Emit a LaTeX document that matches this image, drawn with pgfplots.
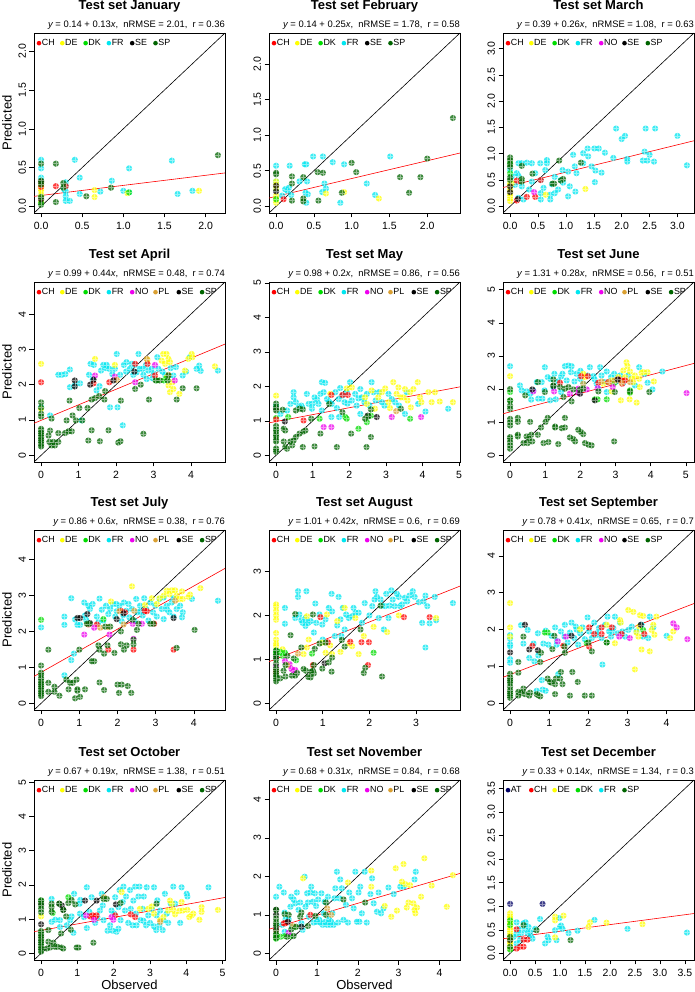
\documentclass[border=0pt]{standalone}
\usepackage{pgfplots}
\pgfplotsset{compat=1.18}
\usepackage{fontspec}
\setmainfont{Liberation Sans}
\definecolor{cCH}{RGB}{255,0,0}
\definecolor{cDE}{RGB}{255,255,0}
\definecolor{cDK}{RGB}{0,220,0}
\definecolor{cFR}{RGB}{0,230,240}
\definecolor{cNO}{RGB}{238,0,238}
\definecolor{cPL}{RGB}{218,160,50}
\definecolor{cSE}{RGB}{0,0,0}
\definecolor{cSP}{RGB}{0,100,0}
\definecolor{cAT}{RGB}{0,0,100}
\pgfdeclareplotmark{cp}{%
  \pgfpathcircle{\pgfpointorigin}{\pgfplotmarksize}\pgfusepathqfill
  \pgfpathmoveto{\pgfpoint{-\pgfplotmarksize}{0pt}}\pgfpathlineto{\pgfpoint{\pgfplotmarksize}{0pt}}%
  \pgfpathmoveto{\pgfpoint{0pt}{-\pgfplotmarksize}}\pgfpathlineto{\pgfpoint{0pt}{\pgfplotmarksize}}%
  \pgfusepathqstroke}
\pgfplotsset{
  pt/.style={only marks, mark=cp, mark size=3.1pt, mark options={fill=#1, draw=white, fill opacity=0.75, draw opacity=0.45, line width=0.5pt}},
  panel/.style={scale only axis, width=191pt, height=180pt, anchor=south west,
    axis line style={line width=0.6pt}, tick align=outside, tick pos=left,
    major tick length=4.5pt, tick style={black, line width=0.5pt},
    /pgf/number format/assume math mode=true,
    ticklabel style={font=\fontsize{10.5}{10.5}\selectfont},
    yticklabel style={rotate=90, anchor=south},
    xticklabel style={anchor=north, yshift=-1.5pt},
  },
  dec/.style={/pgf/number format/fixed, /pgf/number format/fixed zerofill, /pgf/number format/precision=1},
}
\newcommand\ld[2]{\makebox[23.3pt][l]{\tikz[baseline=-0.6ex]\fill[#1] (0,0) circle (2.3pt);\hspace{0.6pt}#2}}
\newcommand\decor[5]{%
  \node[anchor=base, font=\bfseries\fontsize{13}{13}\selectfont, inner sep=0pt] at (#1pt+95.5pt, #2pt+203pt) {#3};
  \node[anchor=base east, font=\fontsize{9.4}{9.4}\selectfont, inner sep=0pt] at (#1pt+191pt, #2pt+185.3pt) {#4};
  \node[anchor=base west, font=\fontsize{8.9}{8.9}\selectfont, inner sep=0pt] at (#1pt+2.5pt, #2pt+167pt) {#5};
}
\newcommand\eq[5]{{\itshape y} = #1 + #2{\itshape x},\ \ nRMSE = #3,\ \ r = #4#5}
\begin{document}
\begin{tikzpicture}
\useasboundingbox (0,0) rectangle (695pt,992pt);
% ---------------- January
\begin{axis}[panel, dec, at={(34pt,779pt)}, xmin=-0.086, xmax=2.236, ymin=-0.086, ymax=2.236, xtick={0,0.5,1,1.5,2}, ytick={0,0.5,1,1.5,2}]
\addplot[pt=cFR] coordinates {(0,0.60)(0,0.49)(0,0.37)(0,0.32)(0,0.13)(0.41,0.60)(0.47,0.37)(0.47,0.16)(0.72,0.19)(0.86,0.33)(1.0,0.20)(1.07,0.49)(1.07,0.18)(1.59,0.59)(1.66,0.16)(1.84,0.20)(0.30,0.26)(0.30,0.13)(0.30,0.07)(0.35,0.07)(0.30,0.19)(0.30,0.31)(0.28,0.22)};
\addplot[pt=cDE] coordinates {(0,0.30)(0,0.25)(0,0.20)(0,0.15)(0,0.10)(0,0.05)(0,0.22)(0.65,0.21)(0.65,0.12)(1.05,0.17)(1.92,0.20)};
\addplot[pt=cCH] coordinates {(0.18,0.26)(0.30,0.26)(0,0.25)(0,0.32)};
\addplot[pt=cDK] coordinates {(0,0.04)(1.07,0.18)};
\addplot[pt=cSE] coordinates {(0,0.31)(0,0.09)};
\addplot[pt=cSP] coordinates {(0,0.55)(0.18,0.55)(0.18,0.055)(0.27,0.30)(0.27,0.24)(0.55,0.13)(0.85,0.24)(2.15,0.66)(0,0.02)(0,0.33)(0,0.28)(0,0.12)};
\addplot[red, line width=0.6pt] coordinates {(-0.086,0.1288)(2.236,0.4307)};
\addplot[black, line width=0.6pt] coordinates {(-0.086,-0.086)(2.236,2.236)};
\end{axis}
% ---------------- February
\begin{axis}[panel, dec, at={(269pt,779pt)}, xmin=-0.0936, xmax=2.4336, ymin=-0.0936, ymax=2.4336, xtick={0,0.5,1,1.5,2}, ytick={0,0.5,1,1.5,2}]
\addplot[pt=cFR] coordinates {(0,0.57)(0,0.35)(0,0.24)(0.18,0.57)(0.38,0.59)(0.40,0.59)(0.49,0.70)(0.62,0.70)(0.75,0.62)(0.90,0.59)(1.51,0.70)(0.64,0.32)(0.66,0.25)(1.20,0.32)(1.31,0.16)(0.85,0.05)(0.40,0.05)(0.42,0.17)(0.39,0.19)(0.12,0.24)(0.17,0.26)(0.20,0.16)(0.61,0.20)(0.41,0.35)(0.31,0.35)(0.08,0.15)(0.15,0.22)};
\addplot[pt=cDE] coordinates {(0,0.05)(0,0.10)(0,0.15)(0,0.25)(0,0.30)(0,0.35)(0.90,0.20)(1.36,0.11)(0.66,0.18)};
\addplot[pt=cCH] coordinates {(0.10,0.10)};
\addplot[pt=cDK] coordinates {(0,0.10)};
\addplot[pt=cSE] coordinates {(0,0.21)(0,0.29)};
\addplot[pt=cSP] coordinates {(0,0.47)(0,0.45)(0.21,0.42)(0.21,0.32)(0.21,0.08)(0.36,0.41)(0.36,0.11)(0.36,0.07)(0.55,0.48)(0.62,0.47)(0.56,0.08)(0.87,0.19)(1.00,0.61)(1.06,0.48)(1.64,0.41)(1.76,0.19)(1.91,0.41)(2.00,0.67)(2.34,1.24)};
\addplot[red, line width=0.6pt] coordinates {(-0.0936,0.1166)(2.4336,0.7484)};
\addplot[black, line width=0.6pt] coordinates {(-0.0936,-0.0936)(2.4336,2.4336)};
\end{axis}
% ---------------- March
\begin{axis}[panel, dec, at={(503pt,779pt)}, xmin=-0.1268, xmax=3.2968, ymin=-0.1268, ymax=3.2968, xtick={0,0.5,1,1.5,2,2.5,3}, ytick={0,0.5,1,1.5,2,2.5,3}]
\addplot[pt=cFR] coordinates {(1.9,1.48)(2.0,1.28)(2.06,1.34)(2.43,1.48)(2.6,1.48)(3.0,1.34)(3.17,0.78)(2.41,1.04)(2.5,0.98)(2.38,0.87)(2.46,0.87)(2.58,0.85)(2.1,0.9)(2.1,0.85)(1.85,0.92)(1.64,0.64)(1.53,0.68)(1.52,0.46)(1.39,1.1)(1.51,1.1)(1.59,1.1)(1.7,1.02)(1.31,1.01)(1.31,0.82)(1.4,0.95)(1.46,0.76)(1.13,0.98)(1.16,0.76)(1.19,0.63)(1.17,0.28)(1.04,0.66)(1.07,0.38)(0.94,0.69)(0.91,0.5)(0.8,0.56)(0.86,0.32)(0.75,0.42)(0.72,0.22)(0.72,0.13)(0.63,0.69)(0.66,0.88)(0.66,0.82)(0.54,0.82)(0.55,0.5)(0.55,0.25)(0.55,0.13)(0.45,0.63)(0.39,0.82)(0.3,0.83)(0.21,0.82)(0.15,0.82)(0.12,0.63)(0.15,0.58)(0.03,0.57)(0.09,0.41)(0.21,0.38)(0.15,0.16)(0.24,0.13)(0.34,0.32)(1.04,0.19)(0.8,0.25)(0.39,0.47)(0,0.7)(0.6,0.35)(0.95,0.45)};
\addplot[pt=cDE] coordinates {(0,0.1)(0,0.15)(0,0.2)(0,0.25)(0,0.3)(0,0.35)(0,0.4)(0,0.45)(0.64,0.22)(1.35,0.33)(0.03,0.44)};
\addplot[pt=cCH] coordinates {(0.12,0.49)(0.3,0.18)(0.45,0.18)(0.55,0.5)(0.12,0.11)};
\addplot[pt=cDK] coordinates {(0,0.63)(0,0.82)};
\addplot[pt=cNO] coordinates {(0.43,0.27)};
\addplot[pt=cSE] coordinates {(0.14,0.14)(0,0.27)(0,0.38)};
\addplot[pt=cSP] coordinates {(0,0.93)(0,0.88)(0,0.8)(0,0.75)(0,0.55)(0,0.5)(0.21,0.77)(0.21,0.52)(0.21,0.47)(0.4,0.62)(0.76,0.43)(0.79,0.43)(0.88,0.87)(0.91,0.49)(0.95,0.52)(1.27,0.83)};
\addplot[red, line width=0.6pt] coordinates {(-0.1268,0.357)(3.2968,1.247)};
\addplot[black, line width=0.6pt] coordinates {(-0.1268,-0.1268)(3.2968,3.2968)};
\end{axis}
% ---------------- April
\begin{axis}[panel, at={(34pt,530pt)}, xmin=-0.1888, xmax=4.9088, ymin=-0.1888, ymax=4.9088, xtick={0,1,2,3,4}, ytick={0,1,2,3,4}]
\addplot[pt=cFR] coordinates {(0,1.36)(0.24,1.13)(0.46,2.28)(0.55,2.28)(0.77,2.43)(0.77,1.93)(0.9,1.98)(1.04,2.04)(1.08,0.99)(1.28,2.28)(1.32,2.59)(1.38,2.14)(1.41,2.56)(1.48,1.84)(1.56,1.96)(1.66,2.56)(1.73,2.47)(1.75,2.56)(1.84,1.36)(1.82,2.45)(1.97,2.45)(2.04,1.36)(2.02,2.87)(2.18,0.85)(2.11,2.28)(2.21,2.56)(2.27,2.37)(2.37,2.45)(2.46,2.28)(2.51,2.56)(2.6,2.87)(2.64,2.45)(2.73,2.28)(2.8,2.56)(2.82,2.16)(2.95,2.45)(3.01,2.31)(3.1,2.78)(3.13,2.45)(3.24,2.37)(3.31,2.28)(3.53,2.26)(3.78,2.26)(3.87,2.37)(3.97,2.78)(4.15,2.45)(4.22,2.54)(4.26,2.39)(4.72,2.4)(2.28,2.64)(2.71,2.45)(2.86,2.4)(2.42,2.59)(2.98,2.18)(3.46,2.47)(1.6,2.4)(1.9,2.3)(2.55,2.35)(3.6,2.5)(0.65,2.3)};
\addplot[pt=cDE] coordinates {(0,2.59)(0,1.32)(1.44,2.73)(1.97,2.56)(2.84,2.71)(3.26,2.87)(3.35,2.87)(3.4,2.73)(3.44,2.64)(3.31,2.59)(3.35,2.21)(3.4,1.98)(3.44,1.79)(3.51,2.07)(3.53,1.88)(3.69,1.74)(3.84,2.4)(4.02,2.87)(4.04,2.78)(4.64,2.52)(3.93,2.73)(3.22,2.68)};
\addplot[pt=cDK] coordinates {(3.08,2.12)(3.28,2.12)(3.35,2.18)};
\addplot[pt=cCH] coordinates {(0,2.07)(1.4,2.04)(1.82,2.07)(2.51,2.59)(2.84,2.59)(3.04,2.26)};
\addplot[pt=cNO] coordinates {(1.44,2.26)(1.97,2.23)(2.51,2.07)(3.04,2.56)(3.57,2.12)};
\addplot[pt=cPL] coordinates {(2.02,2.14)(2.82,2.73)(3.4,2.28)};
\addplot[pt=cSE] coordinates {(0.9,2.12)(0.9,1.95)(1.31,2.0)(1.93,2.12)(2.49,2.37)(1.4,2.14)};
\addplot[pt=cSP] coordinates {(0,0.25)(0,0.3)(0,0.35)(0,0.4)(0,0.45)(0,0.5)(0,0.55)(0,0.6)(0,0.65)(0,0.7)(0,0.75)(0,1.1)(0,1.18)(0,1.5)(0,1.35)(0.22,0.38)(0.28,0.28)(0.33,0.38)(0.37,0.28)(0.46,0.38)(0.46,0.63)(0.64,0.63)(0.73,0.68)(0.82,0.68)(0.28,1.04)(0.68,0.99)(0.84,1.13)(0.93,0.99)(1.02,1.34)(1.1,0.99)(1.24,1.34)(1.35,1.58)(1.44,1.62)(1.55,1.68)(1.69,1.58)(1.71,1.82)(0.76,1.55)(1.26,0.42)(1.35,0.71)(1.57,0.4)(1.8,0.71)(2.06,0.36)(2.12,0.4)(2.13,1.55)(2.51,1.88)(2.66,2.0)(2.73,0.61)(2.88,1.58)(3.06,2.12)(3.17,2.12)(3.38,2.12)(3.4,2.26)(3.62,1.58)(3.78,1.9)(4.15,1.9)(0.24,0.7)(0.2,0.56)};
\addplot[red, line width=0.6pt] coordinates {(-0.1888,0.9069)(4.9088,3.1499)};
\addplot[black, line width=0.6pt] coordinates {(-0.1888,-0.1888)(4.9088,4.9088)};
\end{axis}
% ---------------- May
\begin{axis}[panel, at={(269pt,530pt)}, xmin=-0.1932, xmax=5.0232, ymin=-0.1932, ymax=5.0232, xtick={0,1,2,3,4,5}, ytick={0,1,2,3,4,5}]
\addplot[pt=cFR] coordinates {(0.3,1.3)(0.39,1.49)(0.48,1.68)(0.54,1.54)(0.62,1.39)(0.69,1.44)(0.84,1.78)(0.89,1.49)(0.98,1.35)(1.05,1.68)(1.12,1.62)(1.16,1.49)(1.21,1.78)(1.25,2.12)(1.34,2.1)(1.3,1.83)(1.39,1.63)(1.51,1.11)(1.52,1.49)(1.62,1.83)(1.71,1.63)(1.72,1.11)(1.81,1.73)(1.87,1.54)(1.93,1.83)(2.02,2.12)(2.07,1.59)(2.16,1.78)(2.2,1.44)(2.3,1.92)(2.34,1.68)(2.41,1.54)(2.48,1.78)(2.61,2.12)(2.66,1.83)(2.72,1.59)(2.81,1.83)(2.89,1.54)(2.96,1.44)(3.07,1.78)(3.16,1.63)(3.25,1.54)(3.36,1.44)(3.52,1.2)(3.57,1.83)(3.88,1.49)(4.08,1.27)(4.7,1.35)(0,1.44)(0.12,1.2)(0.48,1.83)(0.71,1.39)(1.66,1.37)(2.3,1.2)(1.25,1.3)(1.0,1.5)(1.45,1.55)(1.95,1.5)(2.55,1.45)(1.75,1.95)(2.25,1.65)};
\addplot[pt=cDE] coordinates {(0,1.73)(1.48,1.78)(1.93,1.94)(2.07,1.97)(2.43,1.68)(2.61,1.88)(2.79,1.68)(2.89,1.83)(2.98,1.94)(3.07,1.54)(3.2,2.12)(3.29,1.78)(3.34,1.97)(3.41,1.68)(3.52,1.92)(3.59,1.59)(3.66,1.83)(3.68,1.39)(3.75,1.92)(3.87,2.12)(3.93,1.68)(3.97,1.54)(4.16,1.83)(4.25,1.54)(4.34,1.83)(4.47,1.56)(4.83,1.54)(3.48,1.68)(2.48,1.49)(2.7,1.35)(3.11,1.37)};
\addplot[pt=cDK] coordinates {(0,1.08)(0.33,1.11)(1.19,1.06)(1.89,1.11)(1.93,1.06)(2.25,0.77)(2.48,0.96)(3.66,1.06)(2.59,1.15)};
\addplot[pt=cCH] coordinates {(0,1.04)(0.75,1.01)(1.51,1.75)(1.81,1.75)(1.96,1.75)};
\addplot[pt=cNO] coordinates {(1.3,0.82)(1.51,0.82)(3.16,1.11)(3.96,1.11)};
\addplot[pt=cPL] coordinates {(3.28,1.28)};
\addplot[pt=cSE] coordinates {(0,1.35)(0.24,0.98)(2.5,1.15)(2.75,1.11)};
\addplot[pt=cSP] coordinates {(0,0.1)(0,0.15)(0,0.2)(0,0.4)(0,0.45)(0,0.55)(0,0.6)(0,0.7)(0,0.75)(0,0.85)(0,1.3)(0,1.4)(0,1.5)(0.18,1.32)(0.21,0.77)(0.25,0.72)(0.21,0.4)(0.25,0.24)(0.3,0.19)(0.39,0.4)(0.44,0.29)(0.48,0.43)(0.54,0.53)(0.54,1.3)(0.64,0.63)(0.64,1.35)(0.73,1.33)(0.73,0.24)(0.75,0.69)(0.8,0.72)(0.96,1.06)(1.05,0.26)(1.21,0.63)(1.45,1.49)(1.66,0.24)(1.81,1.25)(2.05,0.63)(2.43,1.06)(2.47,0.24)(2.52,1.13)(2.59,0.53)(2.59,1.33)(3.41,1.35)};
\addplot[red, line width=0.6pt] coordinates {(-0.1932,0.9414)(5.0232,1.9846)};
\addplot[black, line width=0.6pt] coordinates {(-0.1932,-0.1932)(5.0232,5.0232)};
\end{axis}
% ---------------- June
\begin{axis}[panel, at={(503pt,530pt)}, xmin=-0.2012, xmax=5.2312, ymin=-0.2012, ymax=5.2312, xtick={0,1,2,3,4,5}, ytick={0,1,2,3,4,5}]
\addplot[pt=cFR] coordinates {(0,2.69)(0.28,2.11)(0.33,1.96)(0.47,1.93)(0.57,1.86)(0.6,1.68)(0.66,1.96)(0.76,2.21)(0.8,1.71)(0.92,1.71)(0.98,1.96)(0.99,2.66)(1.07,2.36)(1.14,1.66)(1.23,2.06)(1.26,2.46)(1.3,1.69)(1.37,2.23)(1.45,2.38)(1.49,2.46)(1.56,2.69)(1.61,2.26)(1.66,2.71)(1.73,2.51)(1.75,2.69)(1.83,2.23)(1.89,2.46)(1.99,2.31)(2.08,2.16)(2.21,2.41)(2.27,2.66)(2.37,2.39)(2.46,2.16)(2.56,2.66)(2.6,2.41)(2.7,2.21)(2.75,2.53)(2.87,2.36)(2.96,2.46)(3.03,2.23)(3.13,2.41)(3.22,2.19)(3.36,2.41)(3.55,2.11)(3.67,2.66)(3.82,2.46)(3.91,2.19)(4.05,1.99)(4.33,2.53)(2.51,2.01)(2.75,1.91)(0.9,2.21)(1.45,1.91)(1.15,2.3)(2.0,2.55)(2.4,2.3)};
\addplot[pt=cDE] coordinates {(0,2.39)(2.08,2.46)(2.65,2.16)(2.89,2.26)(3.08,2.36)(3.15,1.66)(3.22,2.56)(3.27,2.36)(3.31,2.81)(3.34,2.69)(3.41,2.53)(3.46,2.31)(3.5,2.21)(3.55,2.41)(3.6,1.59)(3.67,2.31)(3.69,2.06)(3.74,2.49)(3.79,2.51)(3.91,2.51)(4.09,2.23)(3.4,1.69)(3.41,1.91)(2.13,2.36)(2.89,1.93)};
\addplot[pt=cDK] coordinates {(0,1.91)(0,1.66)(2.41,1.69)(2.49,1.69)(2.75,1.69)(2.96,2.18)(3.41,1.89)(3.41,1.96)};
\addplot[pt=cCH] coordinates {(1.42,2.19)(2.02,2.39)(2.21,2.39)(2.79,2.21)(3.08,2.29)(3.17,2.26)(3.27,2.26)(3.19,2.16)(2.51,2.19)};
\addplot[pt=cNO] coordinates {(0.66,1.93)(1.25,1.93)(1.7,1.86)(1.94,2.01)(2.18,1.99)(2.49,2.03)(2.92,2.06)(5.02,1.88)(1.94,1.89)};
\addplot[pt=cPL] coordinates {(2.08,2.16)(2.6,2.23)(2.82,2.21)(2.98,2.26)(3.17,2.19)(3.41,2.21)};
\addplot[pt=cSE] coordinates {(0.63,1.99)(1.23,2.09)(2.41,1.66)(3.06,2.29)(1.99,1.86)};
\addplot[pt=cSP] coordinates {(0,0.2)(0,0.3)(0,0.4)(0,0.5)(0,0.55)(0,0.9)(0,1.0)(0,1.1)(0,1.4)(0,1.5)(0,1.65)(0,2.0)(0.22,1.13)(0.22,1.01)(0.22,0.62)(0.22,0.57)(0.38,0.37)(0.47,0.57)(0.5,0.37)(0.54,0.52)(0.6,0.62)(0.63,0.42)(0.57,1.01)(0.79,0.62)(0.88,0.84)(0.95,0.37)(1.01,1.01)(1.09,0.4)(0.79,2.21)(0.43,1.81)(1.07,1.13)(1.28,0.87)(1.28,0.84)(1.37,0.34)(1.47,0.82)(1.56,1.13)(1.56,0.84)(1.7,0.54)(1.8,0.49)(1.85,0.42)(1.94,0.77)(2.02,0.7)(2.08,0.64)(2.13,0.37)(2.23,0.32)(2.32,0.3)(2.96,0.42)(1.75,1.63)(1.8,1.99)(2.98,1.91)(3.41,1.93)(3.96,1.91)(1.23,2.29)(1.23,2.11)(1.42,2.06)(1.56,2.01)(1.66,2.06)(1.99,1.99)(2.08,2.01)(2.51,1.93)(0.99,1.91)(1.52,1.76)};
\addplot[red, line width=0.6pt] coordinates {(-0.2012,1.2537)(5.2312,2.7747)};
\addplot[black, line width=0.6pt] coordinates {(-0.2012,-0.2012)(5.2312,5.2312)};
\end{axis}
% ---------------- July
\begin{axis}[panel, at={(34pt,282pt)}, xmin=-0.1852, xmax=4.8152, ymin=-0.1852, ymax=4.8152, xtick={0,1,2,3,4}, ytick={0,1,2,3,4}]
\addplot[pt=cFR] coordinates {(0,2.11)(0.61,2.41)(0.61,2.18)(0.61,0.78)(0.79,2.92)(0.79,1.2)(0.86,1.38)(0.89,2.33)(0.95,2.18)(1.02,2.18)(1.13,2.8)(1.18,2.32)(1.24,2.71)(1.28,2.62)(1.35,2.76)(1.46,2.41)(1.53,2.91)(1.59,2.6)(1.63,2.3)(1.7,2.71)(1.76,2.48)(1.81,2.62)(1.88,2.76)(1.94,2.41)(1.98,2.56)(2.05,2.71)(2.11,2.28)(2.17,2.8)(2.23,2.57)(2.29,2.76)(2.31,2.39)(2.38,2.62)(2.44,2.3)(2.49,2.9)(2.52,2.53)(2.59,2.71)(2.66,2.44)(2.7,2.92)(2.75,2.62)(2.81,2.3)(2.86,2.8)(2.93,2.53)(2.99,2.71)(3.03,2.41)(3.1,2.9)(3.16,2.62)(3.21,2.34)(3.29,2.71)(3.36,2.53)(3.42,2.8)(3.47,2.41)(3.55,2.62)(3.64,2.71)(3.71,2.53)(3.95,2.9)(4.63,2.85)(3.21,2.94)(3.47,2.92)(3.69,2.39)(1.97,2.76)(1.15,2.44)(1.5,2.25)(2.15,2.45)(2.6,2.55)(3.3,2.6)};
\addplot[pt=cDE] coordinates {(1.83,2.83)(2.38,3.25)(2.9,2.92)(3.1,2.92)(3.21,2.99)(3.29,3.13)(3.36,3.03)(3.42,3.14)(3.51,3.14)(3.55,2.99)(3.62,2.9)(3.69,3.11)(3.71,2.9)(3.86,2.96)(3.9,3.02)(4.17,3.2)(2.72,2.73)(3.03,2.76)};
\addplot[pt=cDK] coordinates {(0,2.32)(1.63,2.34)};
\addplot[pt=cCH] coordinates {(1.24,2.19)(1.46,2.19)(1.76,1.49)(2.09,2.57)(2.2,2.53)(2.42,1.49)(2.71,2.57)(2.77,2.56)(2.96,2.21)(3.47,1.49)};
\addplot[pt=cNO] coordinates {(1.13,1.91)(1.39,2.1)(1.79,1.91)(2.42,1.79)(2.4,2.21)(2.64,2.21)};
\addplot[pt=cPL] coordinates {(1.55,2.1)(1.76,2.12)(2.05,2.56)(2.16,2.19)(2.44,2.57)(3.51,2.85)};
\addplot[pt=cSE] coordinates {(0.95,2.37)(1.02,2.37)(1.21,2.48)(1.28,2.23)(1.98,2.34)(2.16,2.5)(3.47,2.37)};
\addplot[pt=cSP] coordinates {(0,0.2)(0,0.25)(0,0.3)(0,0.35)(0,0.4)(0,0.45)(0,0.5)(0,0.55)(0,0.6)(0,0.65)(0,0.7)(0,0.8)(0,0.85)(0,1.05)(0.19,1.49)(0.19,0.57)(0.19,0.32)(0.35,0.46)(0.35,0.32)(0.48,0.21)(0.66,0.66)(0.72,0.39)(0.76,0.57)(0.83,0.57)(0.89,0.14)(0.93,0.66)(0.95,0.39)(0.95,0.35)(1.02,0.18)(1.15,0.39)(1.0,1.49)(1.33,1.17)(1.39,1.17)(1.5,1.61)(1.53,0.58)(1.53,1.49)(1.65,1.38)(1.65,0.37)(1.74,1.61)(1.92,1.4)(2.0,0.52)(2.04,0.29)(2.09,1.64)(2.11,0.52)(2.17,1.49)(2.24,1.61)(2.27,0.48)(2.36,0.29)(2.42,1.64)(2.42,1.77)(2.51,2.04)(2.09,2.0)(2.86,2.21)(3.55,1.54)(4.02,2.04)(2.4,2.32)(1.2,2.21)(1.26,2.21)(1.68,2.13)(1.81,2.13)(2.55,2.21)(2.94,2.21)};
\addplot[red, line width=0.6pt] coordinates {(-0.1852,0.7489)(4.8152,3.7491)};
\addplot[black, line width=0.6pt] coordinates {(-0.1852,-0.1852)(4.8152,4.8152)};
\end{axis}
% ---------------- August
\begin{axis}[panel, at={(269pt,282pt)}, xmin=-0.1516, xmax=3.9416, ymin=-0.1516, ymax=3.9416, xtick={0,1,2,3}, ytick={0,1,2,3}]
\addplot[pt=cFR] coordinates {(0.19,2.17)(0.19,1.81)(0.41,1.94)(0.47,2.55)(0.47,2.42)(0.5,2.02)(0.54,1.89)(0.57,1.83)(0.63,1.94)(0.65,2.55)(0.69,1.83)(0.74,1.87)(0.81,1.61)(0.84,2.27)(0.86,1.83)(0.93,2.02)(0.99,1.79)(1.06,1.91)(1.13,2.17)(1.19,2.49)(1.2,2.09)(1.26,1.53)(1.34,2.42)(1.38,1.91)(1.4,1.53)(1.43,2.17)(1.47,1.68)(1.5,2.02)(1.56,1.94)(1.63,1.98)(1.7,2.06)(1.77,2.06)(1.84,1.83)(1.9,2.28)(2.06,2.21)(2.11,2.36)(2.13,2.55)(2.16,2.42)(2.2,1.94)(2.27,2.22)(2.31,1.68)(2.34,2.21)(2.36,2.49)(2.41,1.94)(2.43,2.22)(2.47,2.57)(2.5,2.36)(2.54,2.21)(2.59,2.49)(2.63,2.42)(2.66,2.21)(2.7,2.25)(2.76,2.4)(2.81,2.32)(2.86,2.45)(2.93,2.55)(2.97,2.42)(3.06,2.3)(3.13,1.83)(3.16,2.32)(3.2,2.45)(3.2,1.27)(3.24,2.21)(3.29,1.82)(3.4,2.42)(3.43,1.89)(3.79,2.28)(1.31,1.77)(1.66,2.17)(2.24,2.36)(0.63,1.76)(1.0,1.45)(2.0,2.0)};
\addplot[pt=cDE] coordinates {(0,2.25)(0,2.2)(0,2.1)(0,2.0)(0,1.9)(0,1.6)(0,1.45)(0,1.35)(0,1.3)(0.14,1.23)(0.59,1.12)(0.66,1.98)(0.66,1.27)(0.7,1.45)(0.99,1.38)(1.06,1.15)(1.09,2.02)(1.16,1.32)(1.2,1.12)(1.31,1.87)(1.38,1.17)(1.47,2.17)(1.57,1.36)(1.63,1.3)(1.7,1.94)(1.77,1.12)(1.88,1.53)(2.38,1.62)(2.63,2.0)(3.43,1.94)(2.09,1.74)};
\addplot[pt=cDK] coordinates {(0,1.1)(0,1.2)(0,1.15)(0.09,1.17)(0.19,1.15)(0.14,1.08)(0.43,0.98)(0.77,1.13)(2.09,1.15)};
\addplot[pt=cCH] coordinates {(0,0.7)(0,0.75)(0.79,0.87)(0.95,1.96)(1.11,1.39)(1.59,1.4)(1.83,1.39)(1.99,1.39)(1.97,0.87)(2.74,1.96)(3.29,1.96)};
\addplot[pt=cNO] coordinates {(0,0.85)(0.19,0.96)(0.29,0.89)(0.33,0.78)(0.38,0.74)(0.41,0.76)};
\addplot[pt=cPL] coordinates {(0.47,1.13)(0.24,0.87)};
\addplot[pt=cSE] coordinates {(0,1.04)(1.04,0.91)};
\addplot[pt=cSP] coordinates {(0,0.5)(0,0.55)(0,0.6)(0,0.65)(0,0.7)(0,0.75)(0,0.8)(0,0.9)(0,1.0)(0,1.1)(0,1.2)(0.09,0.57)(0.16,0.74)(0.2,0.61)(0.2,0.87)(0.24,1.08)(0.31,1.55)(0.34,0.63)(0.38,1.02)(0.41,2.03)(0.41,0.63)(0.45,0.69)(0.54,1.27)(0.59,0.78)(0.64,0.74)(0.69,0.6)(0.74,0.59)(0.76,0.72)(0.79,0.74)(0.81,0.68)(0.83,1.24)(0.79,2.02)(0.93,1.36)(0.99,0.79)(1.06,1.38)(1.13,0.93)(1.19,0.72)(1.2,1.04)(1.41,1.44)(1.47,1.29)(1.81,1.68)(1.88,0.69)(1.91,0.81)(2.24,2.22)(2.27,0.61)(0.81,0.87)};
\addplot[red, line width=0.6pt] coordinates {(-0.1516,0.9463)(3.9416,2.6655)};
\addplot[black, line width=0.6pt] coordinates {(-0.1516,-0.1516)(3.9416,3.9416)};
\end{axis}
% ---------------- September
\begin{axis}[panel, at={(503pt,282pt)}, xmin=-0.1808, xmax=4.7008, ymin=-0.1808, ymax=4.7008, xtick={0,1,2,3,4}, ytick={0,1,2,3,4}]
\addplot[pt=cFR] coordinates {(0,1.1)(0,1.2)(0,1.55)(0,1.6)(0,1.75)(0,1.85)(0.28,2.12)(0.34,1.62)(0.45,1.99)(0.49,1.23)(0.6,1.62)(0.62,1.14)(0.71,1.9)(0.72,1.3)(0.81,0.63)(0.85,1.62)(0.91,1.97)(0.98,1.59)(1.06,1.83)(1.15,2.06)(1.19,1.59)(1.23,0.79)(1.3,1.95)(1.39,1.81)(1.4,2.13)(1.47,1.65)(1.53,1.92)(1.57,2.19)(1.64,1.77)(1.68,2.08)(1.74,1.59)(1.79,1.9)(1.85,2.06)(1.91,1.74)(1.98,2.33)(2.02,1.95)(2.09,1.77)(2.15,2.19)(2.21,1.9)(2.27,2.04)(2.34,1.77)(2.36,1.05)(2.43,2.13)(2.49,2.35)(2.53,1.95)(2.58,1.81)(2.64,2.04)(2.68,2.35)(2.75,1.9)(2.81,2.19)(2.87,1.95)(2.94,1.81)(3.02,1.99)(3.11,2.08)(3.23,1.95)(3.36,2.13)(3.4,1.81)(3.53,1.77)(3.57,2.35)(3.66,2.06)(4.0,1.83)(0.68,0.34)(0.91,0.34)(0.83,0.37)(1.2,1.7)(1.7,2.0)(2.2,1.85)(2.6,1.95)};
\addplot[pt=cDE] coordinates {(0,2.72)(0,2.06)(0,1.81)(1.79,2.01)(2.47,2.13)(2.68,1.63)(2.81,2.26)(2.83,2.19)(3.02,2.53)(3.15,2.48)(3.19,0.92)(3.23,1.92)(3.28,1.81)(3.3,2.08)(3.32,2.39)(3.36,1.46)(3.4,2.37)(3.57,1.41)(3.62,1.99)(3.66,2.13)(3.69,1.86)(3.74,2.35)(4.09,1.77)(4.17,1.95)};
\addplot[pt=cDK] coordinates {(0.89,1.92)(0.96,1.92)(1.96,1.63)(2.47,1.65)(3.4,1.99)};
\addplot[pt=cCH] coordinates {(0.57,1.56)(1.36,1.56)(2.02,2.06)(2.02,1.54)(2.15,1.88)(2.34,1.88)(2.34,2.06)(2.6,2.06)(2.85,1.88)(3.43,1.88)};
\addplot[pt=cNO] coordinates {(1.22,1.68)(1.43,1.81)(2.79,1.81)(3.06,1.77)(4.17,2.17)(4.26,2.06)(4.53,1.74)};
\addplot[pt=cSE] coordinates {(0,1.38)(0.38,2.13)(0.49,1.46)(0.71,1.44)(1.57,1.83)(3.34,2.13)};
\addplot[pt=cSP] coordinates {(0,0.15)(0,0.2)(0,0.25)(0,0.3)(0,0.35)(0,0.45)(0,0.55)(0,0.6)(0,0.65)(0,0.7)(0,0.8)(0.21,0.31)(0.21,0.21)(0.21,0.83)(0.21,1.12)(0.28,0.28)(0.34,0.4)(0.34,1.81)(0.38,0.25)(0.49,0.21)(0.51,0.29)(0.68,0.25)(0.72,0.22)(0.77,0.19)(0.77,1.12)(0.79,1.37)(0.96,0.67)(1.02,0.58)(1.06,0.56)(1.08,1.47)(1.13,1.83)(1.15,0.52)(1.17,0.67)(1.34,0.52)(1.39,1.54)(1.4,1.37)(1.3,0.85)(1.59,0.85)(1.53,0.21)(1.73,0.58)(1.91,0.21)(2.0,1.65)(2.09,0.21)(2.09,1.41)(2.47,1.65)(1.15,0.25)(1.28,0.67)};
\addplot[red, line width=0.6pt] coordinates {(-0.1808,0.7059)(4.7008,2.7073)};
\addplot[black, line width=0.6pt] coordinates {(-0.1808,-0.1808)(4.7008,4.7008)};
\end{axis}
% ---------------- October
\begin{axis}[panel, at={(34pt,32pt)}, xmin=-0.1948, xmax=5.0648, ymin=-0.1948, ymax=5.0648, xtick={0,1,2,3,4,5}, ytick={0,1,2,3,4,5}]
\addplot[pt=cFR] coordinates {(0.29,1.59)(0.29,0.92)(0.39,0.98)(0.52,0.97)(0.52,0.77)(0.71,0.82)(0.8,0.97)(0.84,1.08)(0.89,0.6)(0.91,1.74)(1.06,1.45)(1.07,1.16)(1.08,1.56)(1.18,1.06)(1.26,1.93)(1.33,1.21)(1.39,1.64)(1.49,0.89)(1.55,1.06)(1.62,1.25)(1.67,1.74)(1.72,0.97)(1.83,0.66)(1.9,0.82)(1.94,1.25)(1.97,0.66)(2.01,1.16)(2.04,1.64)(2.08,0.63)(2.13,1.35)(2.16,1.85)(2.19,0.97)(2.27,1.95)(2.31,1.25)(2.34,1.66)(2.4,0.89)(2.45,1.85)(2.47,1.3)(2.52,0.82)(2.54,1.54)(2.59,1.95)(2.61,1.16)(2.63,0.82)(2.68,1.66)(2.71,1.95)(2.74,0.97)(2.8,1.3)(2.83,1.66)(2.89,0.82)(2.91,1.93)(2.95,1.11)(3.0,0.89)(3.05,1.3)(3.11,1.93)(3.11,0.79)(3.17,0.68)(3.18,1.11)(3.26,0.82)(3.28,1.25)(3.35,0.68)(3.37,0.97)(3.41,1.74)(3.46,1.16)(3.5,0.89)(3.57,1.45)(3.64,1.95)(3.69,1.45)(3.83,0.89)(3.87,1.93)(4.01,1.74)(4.03,1.66)(4.61,1.93)(2.82,0.95)(1.26,0.74)(2.13,0.72)(1.7,1.4)(2.25,1.5)(3.2,1.55)};
\addplot[pt=cDE] coordinates {(0,1.08)(2.22,1.79)(2.72,1.3)(2.95,1.3)(3.05,1.37)(3.11,1.16)(3.28,0.97)(3.5,1.25)(3.55,1.54)(3.6,1.45)(3.64,1.27)(3.69,1.14)(3.87,1.5)(3.9,1.25)(4.03,1.27)(4.08,1.06)(4.15,1.11)(4.19,1.16)(4.36,0.98)(4.42,1.35)(4.42,1.21)(4.87,1.27)(3.81,1.24)(3.37,1.06)};
\addplot[pt=cDK] coordinates {(0,1.54)(0.75,1.64)(0.32,1.18)};
\addplot[pt=cCH] coordinates {(1.35,1.08)(1.42,1.11)(1.49,1.06)(1.53,1.11)(2.04,1.11)(2.47,1.14)(2.59,1.06)};
\addplot[pt=cNO] coordinates {(1.24,1.11)(1.94,1.06)(1.99,0.98)(1.46,0.98)};
\addplot[pt=cPL] coordinates {(1.73,1.64)(3.28,0.92)};
\addplot[pt=cSE] coordinates {(0,1.45)(0,0.85)(0.5,1.45)(0.57,1.4)(1.21,1.54)(1.53,1.54)(2.06,1.43)(0.61,1.27)};
\addplot[pt=cSP] coordinates {(0,0.05)(0,0.1)(0,0.15)(0,0.2)(0,0.25)(0,0.3)(0,0.35)(0,0.4)(0,0.45)(0,0.5)(0,0.55)(0,0.6)(0,0.65)(0,1.2)(0,1.3)(0,1.4)(0,1.5)(0,1.55)(0.16,0.14)(0.2,0.68)(0.2,0.34)(0.25,0.17)(0.29,1.45)(0.29,1.35)(0.29,1.21)(0.34,0.31)(0.39,0.19)(0.45,0.19)(0.5,1.45)(0.57,0.17)(0.61,0.14)(0.55,0.58)(0.61,1.27)(0.69,1.08)(0.75,1.47)(0.82,0.69)(0.84,1.56)(0.98,0.17)(1.03,0.17)(0.94,1.43)(1.44,0.31)(1.72,1.59)(1.81,1.59)(2.19,1.47)(3.18,1.45)};
\addplot[red, line width=0.6pt] coordinates {(-0.1948,0.633)(5.0648,1.6323)};
\addplot[black, line width=0.6pt] coordinates {(-0.1948,-0.1948)(5.0648,5.0648)};
\end{axis}
% ---------------- November
\begin{axis}[panel, at={(269pt,32pt)}, xmin=-0.1732, xmax=4.5032, ymin=-0.1732, ymax=4.5032, xtick={0,1,2,3,4}, ytick={0,1,2,3,4}]
\addplot[pt=cFR] coordinates {(0,1.47)(0.08,1.73)(0.19,1.58)(0.21,1.06)(0.23,0.88)(0.31,0.88)(0.35,1.21)(0.37,1.47)(0.43,1.4)(0.47,1.3)(0.51,1.58)(0.55,1.13)(0.59,1.32)(0.62,0.78)(0.65,0.61)(0.7,1.99)(0.72,1.21)(0.76,1.56)(0.78,1.32)(0.8,0.95)(0.84,1.58)(0.86,1.73)(0.9,1.34)(0.92,0.8)(0.95,1.56)(0.98,1.23)(1.0,0.82)(1.03,1.4)(1.06,0.87)(1.08,0.8)(1.11,1.56)(1.14,0.74)(1.17,1.04)(1.19,1.34)(1.21,0.82)(1.25,0.74)(1.27,1.47)(1.3,0.88)(1.33,0.74)(1.35,0.82)(1.38,1.04)(1.41,0.74)(1.43,1.43)(1.45,1.69)(1.49,2.12)(1.52,0.8)(1.55,1.43)(1.57,1.92)(1.61,1.69)(1.65,0.87)(1.71,1.26)(1.76,0.8)(1.79,1.58)(1.86,1.43)(1.9,1.17)(1.94,2.12)(1.98,0.82)(2.02,1.58)(2.04,0.82)(2.06,1.73)(2.1,1.04)(2.17,2.12)(2.22,0.8)(2.31,1.54)(2.35,1.95)(2.39,1.3)(2.47,1.08)(2.51,1.58)(2.57,1.04)(2.63,1.17)(2.75,1.71)(2.88,1.54)(3.04,1.73)(3.12,1.73)(3.39,1.92)(3.42,2.12)(0.15,0.74)(0.21,0.56)(0.39,0.69)};
\addplot[pt=cDE] coordinates {(0.66,1.95)(1.76,1.84)(2.33,2.15)(2.33,1.73)(2.66,1.23)(2.82,0.95)(2.93,2.21)(2.96,1.11)(3.08,1.86)(3.12,2.32)(3.16,1.8)(3.2,1.19)(3.24,1.32)(3.28,1.77)(3.36,1.3)(3.39,1.13)(3.41,1.04)(3.45,1.19)(3.55,1.47)(3.63,2.47)(3.81,1.76)(4.18,1.21)(4.33,2.03)};
\addplot[pt=cDK] coordinates {(0,0.38)(0,0.42)(0,0.45)(0,0.48)(0.11,0.43)(0.23,0.45)(0.35,0.45)(0.47,0.68)};
\addplot[pt=cCH] coordinates {(0.19,0.78)(0.23,0.78)(0.27,0.8)(0.84,1.0)(0,0.61)};
\addplot[pt=cNO] coordinates {(0,1.0)(0,0.68)(0.31,0.54)};
\addplot[pt=cPL] coordinates {(1.25,1.17)(1.35,1.0)(0.41,0.71)};
\addplot[pt=cSE] coordinates {(0.29,0.82)(0.62,0.69)(0,1.13)};
\addplot[pt=cSP] coordinates {(0,0.4)(0,0.5)(0,0.6)(0,0.7)(0,0.75)(0,0.8)(0,0.9)(0,1.0)(0,1.13)(0.27,0.43)(0.37,0.62)(0.43,0.45)(0.49,0.69)(0.59,0.95)(0.62,1.06)(0.78,0.71)(0.96,0.97)(1.22,1.32)(1.22,1.0)(1.65,1.4)(2.18,1.32)(0.31,1.0)(0.21,1.02)};
\addplot[red, line width=0.6pt] coordinates {(-0.1732,0.6263)(4.5032,2.076)};
\addplot[black, line width=0.6pt] coordinates {(-0.1732,-0.1732)(4.5032,4.5032)};
\end{axis}
% ---------------- December
\begin{axis}[panel, dec, at={(503pt,32pt)}, xmin=-0.1416, xmax=3.6816, ymin=-0.1416, ymax=3.6816, xtick={0,0.5,1,1.5,2,2.5,3,3.5}, ytick={0,0.5,1,1.5,2,2.5,3,3.5}]
\addplot[pt=cFR] coordinates {(0.13,0.66)(0.13,0.42)(0.13,0.21)(0.2,0.29)(0.22,0.43)(0.27,0.64)(0.3,0.52)(0.31,0.66)(0.35,0.43)(0.37,0.56)(0.4,0.45)(0.42,0.35)(0.45,0.31)(0.6,0.73)(0.7,0.21)(0.75,0.35)(0.77,0.28)(0.9,0.49)(0.93,0.28)(0.99,0.75)(1.0,0.56)(1.02,0.59)(1.05,0.52)(1.17,0.43)(1.35,0.48)(1.69,0.71)(2.35,0.52)(3.54,0.44)(0.17,0.52)(0.5,0.52)(0.07,0.35)};
\addplot[pt=cDE] coordinates {(0,0.1)(0,0.15)(0,0.2)(0,0.25)(0,0.3)(0,0.35)(0,0.4)(0,0.45)(0,0.5)(0,0.55)(0,0.6)(0,0.65)(0,0.7)(0,0.75)(0,0.8)(0,0.85)(0.9,0.78)(0.9,0.7)(1.07,0.8)(0.9,0.34)(1.57,0.56)(1.6,0.66)(1.93,0.65)(2.65,0.62)};
\addplot[pt=cDK] coordinates {(0,0.08)(0,0.6)(0,0.7)};
\addplot[pt=cCH] coordinates {(0.13,0.51)(0.13,0.1)(0.2,0.14)(0.27,0.14)(0.27,0.29)(0.35,0.29)(0,0.28)};
\addplot[pt=cSP] coordinates {(0,0.35)(0,0.28)(0,0.14)(0.27,0.6)(0.53,0.49)(1.21,0.28)};
\addplot[pt=cAT] coordinates {(0,1.05)(0.65,1.05)};
\addplot[red, line width=0.6pt] coordinates {(-0.1416,0.3102)(3.6816,0.8454)};
\addplot[black, line width=0.6pt] coordinates {(-0.1416,-0.1416)(3.6816,3.6816)};
\end{axis}
% ---------------- texts
\decor{34}{779}{Test set January}{\eq{0.14}{0.13}{2.01}{0.36}{}}{\ld{cCH}{CH}\ld{cDE}{DE}\ld{cDK}{DK}\ld{cFR}{FR}\ld{cSE}{SE}\ld{cSP}{SP}}
\decor{269}{779}{Test set February}{\eq{0.14}{0.25}{1.78}{0.58}{}}{\ld{cCH}{CH}\ld{cDE}{DE}\ld{cDK}{DK}\ld{cFR}{FR}\ld{cSE}{SE}\ld{cSP}{SP}}
\decor{503}{779}{Test set March}{\eq{0.39}{0.26}{1.08}{0.63}{}}{\ld{cCH}{CH}\ld{cDE}{DE}\ld{cDK}{DK}\ld{cFR}{FR}\ld{cNO}{NO}\ld{cSE}{SE}\ld{cSP}{SP}}
\decor{34}{530}{Test set April}{\eq{0.99}{0.44}{0.48}{0.74}{}}{\ld{cCH}{CH}\ld{cDE}{DE}\ld{cDK}{DK}\ld{cFR}{FR}\ld{cNO}{NO}\ld{cPL}{PL}\ld{cSE}{SE}\ld{cSP}{SP}}
\decor{269}{530}{Test set May}{\eq{0.98}{0.2}{0.86}{0.56}{}}{\ld{cCH}{CH}\ld{cDE}{DE}\ld{cDK}{DK}\ld{cFR}{FR}\ld{cNO}{NO}\ld{cPL}{PL}\ld{cSE}{SE}\ld{cSP}{SP}}
\decor{503}{530}{Test set June}{\eq{1.31}{0.28}{0.56}{0.51}{}}{\ld{cCH}{CH}\ld{cDE}{DE}\ld{cDK}{DK}\ld{cFR}{FR}\ld{cNO}{NO}\ld{cPL}{PL}\ld{cSE}{SE}\ld{cSP}{SP}}
\decor{34}{282}{Test set July}{\eq{0.86}{0.6}{0.38}{0.76}{}}{\ld{cCH}{CH}\ld{cDE}{DE}\ld{cDK}{DK}\ld{cFR}{FR}\ld{cNO}{NO}\ld{cPL}{PL}\ld{cSE}{SE}\ld{cSP}{SP}}
\decor{269}{282}{Test set August}{\eq{1.01}{0.42}{0.6}{0.69}{}}{\ld{cCH}{CH}\ld{cDE}{DE}\ld{cDK}{DK}\ld{cFR}{FR}\ld{cNO}{NO}\ld{cPL}{PL}\ld{cSE}{SE}\ld{cSP}{SP}}
\decor{503}{282}{Test set September}{\eq{0.78}{0.41}{0.65}{0.7}{}}{\ld{cCH}{CH}\ld{cDE}{DE}\ld{cDK}{DK}\ld{cFR}{FR}\ld{cNO}{NO}\ld{cSE}{SE}\ld{cSP}{SP}}
\decor{34}{32}{Test set October}{\eq{0.67}{0.19}{1.38}{0.51}{}}{\ld{cCH}{CH}\ld{cDE}{DE}\ld{cDK}{DK}\ld{cFR}{FR}\ld{cNO}{NO}\ld{cPL}{PL}\ld{cSE}{SE}\ld{cSP}{SP}}
\decor{269}{32}{Test set November}{\eq{0.68}{0.31}{0.84}{0.68}{}}{\ld{cCH}{CH}\ld{cDE}{DE}\ld{cDK}{DK}\ld{cFR}{FR}\ld{cNO}{NO}\ld{cPL}{PL}\ld{cSE}{SE}\ld{cSP}{SP}}
\decor{503}{32}{Test set December}{\eq{0.33}{0.14}{1.34}{0.3}{}}{\ld{cAT}{AT}\ld{cCH}{CH}\ld{cDE}{DE}\ld{cDK}{DK}\ld{cFR}{FR}\ld{cSP}{SP}}
\foreach \yb in {779,530,282,32} {\node[rotate=90, anchor=base, font=\fontsize{13}{13}\selectfont, inner sep=0pt] at (11.5pt, \yb pt+90pt) {Predicted};}
\foreach \xl in {34,269} {\node[anchor=base, font=\fontsize{13}{13}\selectfont, inner sep=0pt] at (\xl pt+95.5pt, 2pt) {Observed};}
\end{tikzpicture}
\end{document}
